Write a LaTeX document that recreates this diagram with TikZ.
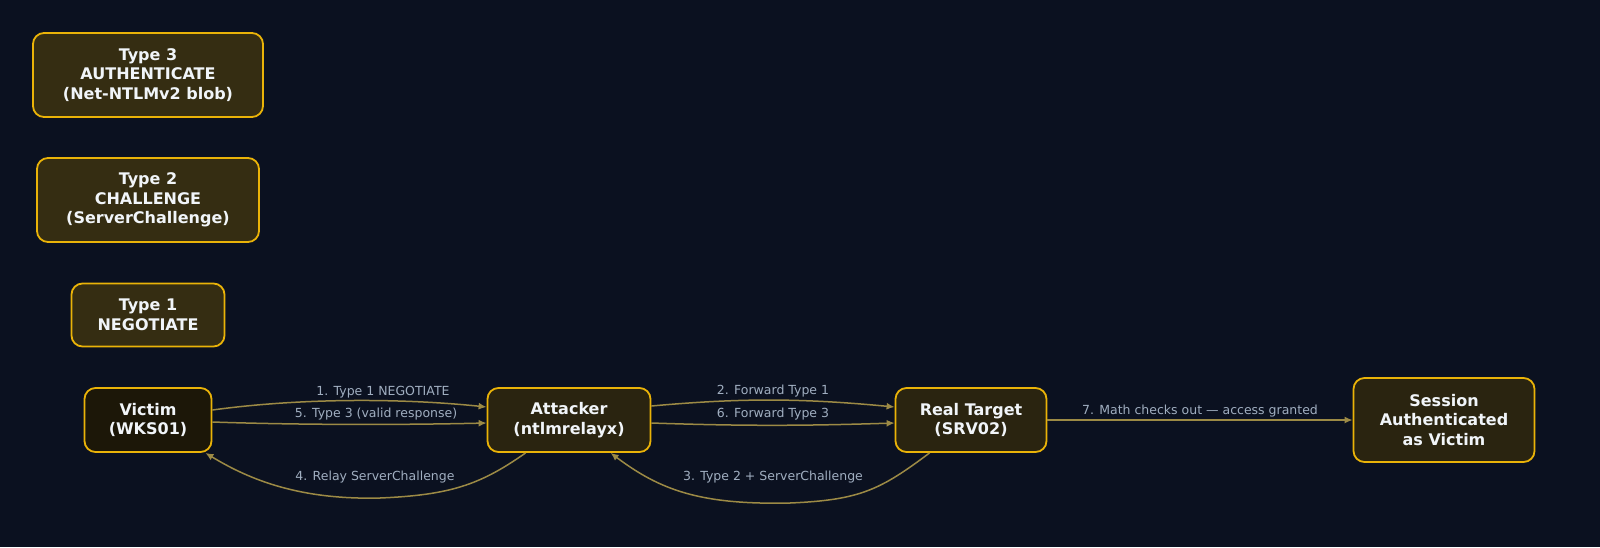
\documentclass[tikz,border=0pt]{standalone}
\usepackage{fontspec}
\setmainfont{DejaVu Sans}
\usetikzlibrary{arrows.meta,calc}
\definecolor{bg}{HTML}{0B1120}
\definecolor{bord}{HTML}{EAB308}
\definecolor{fvic}{HTML}{1C1708}
\definecolor{fmid}{HTML}{2A2410}
\definecolor{ftyp}{HTML}{352D12}
\definecolor{edg}{HTML}{9C8A45}
\definecolor{lab}{HTML}{A0AEC0}
\definecolor{txt}{HTML}{F1F5F9}
\begin{document}
\begin{tikzpicture}[x=1pt,y=-1pt,
  box/.style={draw=bord,line width=1.8pt,rounded corners=11pt,text=txt,font=\fontsize{16}{19.5}\selectfont\bfseries,align=center,inner sep=0pt,fill=fmid},
  arr/.style={draw=edg,line width=1.5pt,-{Latex[length=8pt,width=7pt]}},
  lbl/.style={text=lab,font=\fontsize{12.5}{14}\selectfont,inner sep=1pt}]
\useasboundingbox (0,0) rectangle (1600,547);
\fill[bg] (0,0) rectangle (1600,547);
\node[box,fill=fvic,minimum width=127pt,minimum height=64pt] (vic) at (148,420) {Victim\\(WKS01)};
\node[box,minimum width=163pt,minimum height=64pt] (att) at (569,420) {Attacker\\(ntlmrelayx)};
\node[box,minimum width=151pt,minimum height=64pt] (tgt) at (971,420) {Real Target\\(SRV02)};
\node[box,minimum width=181pt,minimum height=84pt] (ses) at (1444,420) {Session\\Authenticated\\as Victim};
\node[box,fill=ftyp,minimum width=153pt,minimum height=63pt] (t1) at (148,315) {Type 1\\NEGOTIATE};
\node[box,fill=ftyp,minimum width=222pt,minimum height=84pt] (t2) at (148,200) {Type 2\\CHALLENGE\\(ServerChallenge)};
\node[box,fill=ftyp,minimum width=230pt,minimum height=84pt] (t3) at (148,75) {Type 3\\AUTHENTICATE\\(Net-NTLMv2 blob)};
% edges
\draw[arr] ($(vic.east)+(0,-10)$) .. controls (300,398) and (400,398) .. ($(att.west)+(0,-13)$);
\node[lbl] (l1) at (383,392) {1. Type 1 NEGOTIATE};
\draw[arr] ($(vic.east)+(0,2)$) .. controls (300,425) and (400,425) .. ($(att.west)+(0,3)$);
\node[lbl] (l5) at (376,414) {5. Type 3 (valid response)};
\draw[arr] ($(att.east)+(0,-14)$) .. controls (740,398) and (800,398) .. ($(tgt.west)+(0,-13)$);
\node[lbl] (l2) at (773,391) {2. Forward Type 1};
\draw[arr] ($(att.east)+(0,3)$) .. controls (740,426) and (800,426) .. ($(tgt.west)+(0,3)$);
\node[lbl] (l6) at (773,414) {6. Forward Type 3};
\draw[arr] ($(tgt.south west)+(35,0)$) .. controls (880,490) and (860,500) .. (790,503) .. controls (700,505) and (660,490) .. ($(att.south west)+(124,0)$);
\node[lbl] (l3) at (773,477) {3. Type 2 + ServerChallenge};
\draw[arr] ($(att.south west)+(39,0)$) .. controls (480,485) and (450,495) .. (380,498) .. controls (300,500) and (250,480) .. ($(vic.south east)+(-7,0)$);
\node[lbl] (l4) at (375,477) {4. Relay ServerChallenge};
\draw[arr] (tgt.east) -- (ses.west);
\node[lbl] (l7) at (1200,411) {7. Math checks out — access granted};
\end{tikzpicture}
\end{document}
